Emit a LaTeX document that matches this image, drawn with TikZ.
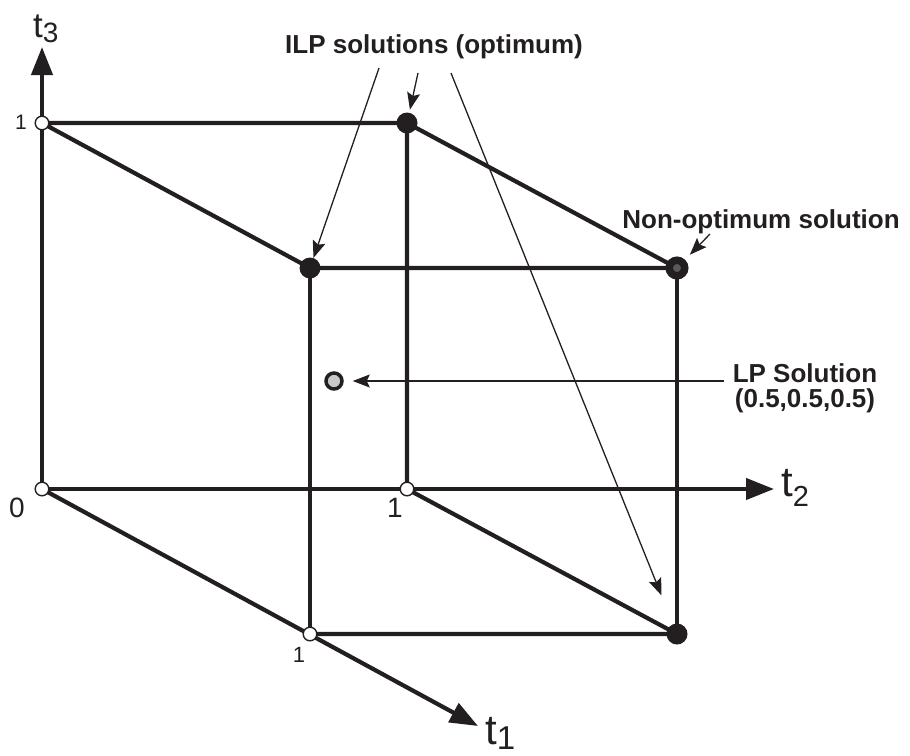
\documentclass[tikz,border=0pt]{standalone}
\usepackage{fontspec}
\setmainfont{Liberation Sans}
\usetikzlibrary{arrows.meta}
\definecolor{myink}{RGB}{35,31,32}
\definecolor{mygrey}{RGB}{200,200,200}
\definecolor{mydot}{RGB}{90,90,90}
\newcommand{\axlab}[3]{t\raisebox{-#2}{\fontsize{#1}{#1}\selectfont #3}}
\tikzset{
  edge/.style={line width=4.2pt, color=myink, line join=round},
  axis/.style={line width=4.2pt, color=myink, -{Triangle[length=28pt,width=21pt]}},
  pointer/.style={line width=1.3pt, color=myink, -{Stealth[length=17pt,width=13pt,inset=3pt]}},
  openpt/.style={circle, draw=myink, fill=white, line width=1.4pt, minimum size=13.6pt, inner sep=0pt},
  ilppt/.style={circle, fill=myink, minimum size=21pt, inner sep=0pt},
  nonpt/.style={circle, draw=myink, fill=mydot, line width=7.5pt, minimum size=15.5pt, inner sep=0pt},
  lppt/.style={circle, draw=myink, fill=mygrey, line width=3.5pt, minimum size=16pt, inner sep=0pt},
  boldlabel/.style={font=\fontsize{26}{25}\selectfont\bfseries, text=myink, inner sep=0pt},
  ticklabel/.style={text=myink, inner sep=0pt},
  axislabel/.style={text=myink, inner sep=0pt, anchor=base west}
}

\begin{document}
\begin{tikzpicture}[x=1pt, y=-1pt]
  \useasboundingbox (0,0) rectangle (910,755);

  % corners of the unit cube (t1 t2 t3)
  \coordinate (c000) at (42,489);
  \coordinate (c001) at (42,123);
  \coordinate (c010) at (407,489);
  \coordinate (c011) at (407,123);
  \coordinate (c100) at (310,634);
  \coordinate (c101) at (310,268);
  \coordinate (c110) at (677,634);
  \coordinate (c111) at (677,268);

  % axes
  \coordinate (end1) at (478,726);
  \coordinate (end2) at (774,489);
  \coordinate (end3) at (42,47);
  \draw[axis] (c000) -- (end1);
  \draw[axis] (c000) -- (end2);
  \draw[axis] (c000) -- (end3);

  % cube edges
  \draw[edge] (c001) -- (c011) -- (c111) -- (c101) -- cycle;
  \draw[edge] (c011) -- (c010) -- (c110) -- (c100);
  \draw[edge] (c101) -- (c100);
  \draw[edge] (c111) -- (c110);

  % solutions
  \node[openpt] (p000) at (c000) {};
  \node[openpt] (p001) at (c001) {};
  \node[openpt] (p010) at (c010) {};
  \node[openpt] (p100) at (c100) {};
  \node[ilppt] (p011) at (c011) {};
  \node[ilppt] (p101) at (c101) {};
  \node[ilppt] (p110) at (c110) {};
  \node[nonpt] (p111) at (c111) {};
  \node[lppt] (lp) at (334,381) {};

  % tick and axis labels
  \node[ticklabel, font=\fontsize{21}{21}\selectfont] (tick3) at (21,122) {1};
  \node[ticklabel, font=\fontsize{28}{28}\selectfont] (tick0) at (17,508) {0};
  \node[ticklabel, font=\fontsize{28}{28}\selectfont] (tick2) at (395,508) {1};
  \node[ticklabel, font=\fontsize{22}{22}\selectfont] (tick1) at (299,655) {1};
  \node[axislabel, font=\fontsize{42}{42}\selectfont] (t1lab) at (485,744) {\axlab{33}{0.12em}{1}};
  \node[axislabel, font=\fontsize{42}{42}\selectfont] (t2lab) at (781,496) {\axlab{29}{0.25em}{2}};
  \node[axislabel, font=\fontsize{35}{35}\selectfont] (t3lab) at (33,37) {\axlab{28}{0.17em}{3}};

  % captions
  \node[boldlabel, anchor=base] (ilp) at (434,53) {ILP solutions (optimum)};
  \node[boldlabel, anchor=base] (nonopt) at (761,228) {Non-optimum solution};
  \node[boldlabel, align=center] (lplab) at (805,388) {LP Solution\\(0.5,0.5,0.5)};

  % pointers
  \coordinate (ilpa) at (379,68);
  \coordinate (ilpb) at (418,73);
  \coordinate (ilpc) at (451,73);
  \coordinate (nona) at (710,234);
  \coordinate (lpa) at (724,381);
  \draw[pointer] (ilpa) -- (p101);
  \draw[pointer, shorten >=3pt] (ilpb) -- (p011);
  \draw[pointer, shorten >=31pt] (ilpc) -- (p110);
  \draw[pointer, shorten >=7pt] (nona) -- (p111);
  \draw[pointer, shorten >=9pt] (lpa) -- (lp);
\end{tikzpicture}
\end{document}
